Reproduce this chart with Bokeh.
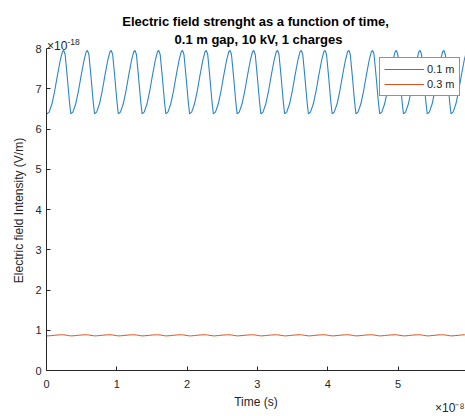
from bokeh.plotting import figure
from bokeh.models import Range1d, Label, Legend, LegendItem, FixedTicker, Title
from bokeh.embed import file_html
from bokeh.resources import INLINE

# ---- data (time in units of 1e-8 s, field in 1e-18 V/m) ----
time_01 = [
    0.000,
    0.007, 0.037, 0.077, 0.117, 0.157, 0.197, 0.227, 0.245, 0.265, 0.295, 0.325,
    0.345, 0.375, 0.415, 0.455, 0.495, 0.535, 0.565, 0.583, 0.603, 0.633, 0.663,
    0.683, 0.713, 0.753, 0.793, 0.833, 0.873, 0.903, 0.921, 0.941, 0.971, 1.001,
    1.021, 1.051, 1.091, 1.131, 1.171, 1.211, 1.241, 1.259, 1.279, 1.309, 1.339,
    1.359, 1.389, 1.429, 1.469, 1.509, 1.549, 1.579, 1.597, 1.617, 1.647, 1.677,
    1.697, 1.727, 1.767, 1.807, 1.847, 1.887, 1.917, 1.935, 1.955, 1.985, 2.015,
    2.035, 2.065, 2.105, 2.145, 2.185, 2.225, 2.255, 2.273, 2.293, 2.323, 2.353,
    2.373, 2.403, 2.443, 2.483, 2.523, 2.563, 2.593, 2.611, 2.631, 2.661, 2.691,
    2.711, 2.741, 2.781, 2.821, 2.861, 2.901, 2.931, 2.949, 2.969, 2.999, 3.029,
    3.049, 3.079, 3.119, 3.159, 3.199, 3.239, 3.269, 3.287, 3.307, 3.337, 3.367,
    3.387, 3.417, 3.457, 3.497, 3.537, 3.577, 3.607, 3.625, 3.645, 3.675, 3.705,
    3.725, 3.755, 3.795, 3.835, 3.875, 3.915, 3.945, 3.963, 3.983, 4.013, 4.043,
    4.063, 4.093, 4.133, 4.173, 4.213, 4.253, 4.283, 4.301, 4.321, 4.351, 4.381,
    4.401, 4.431, 4.471, 4.511, 4.551, 4.591, 4.621, 4.639, 4.659, 4.689, 4.719,
    4.739, 4.769, 4.809, 4.849, 4.889, 4.929, 4.959, 4.977, 4.997, 5.027, 5.057,
    5.077, 5.107, 5.147, 5.187, 5.227, 5.267, 5.297, 5.315, 5.335, 5.365, 5.395,
    5.415, 5.445, 5.485, 5.525, 5.565, 5.605, 5.635, 5.653, 5.673, 5.703, 5.733,
    5.753, 5.783, 5.823, 5.863, 5.903, 5.943, 5.973, 5.991, 6.000,
]

field_01 = [
    6.40,
    6.38, 6.42, 6.62, 6.95, 7.35, 7.72, 7.92, 7.95, 7.85, 7.30, 6.70,
    6.38, 6.42, 6.62, 6.95, 7.35, 7.72, 7.92, 7.95, 7.85, 7.30, 6.70,
    6.38, 6.42, 6.62, 6.95, 7.35, 7.72, 7.92, 7.95, 7.85, 7.30, 6.70,
    6.38, 6.42, 6.62, 6.95, 7.35, 7.72, 7.92, 7.95, 7.85, 7.30, 6.70,
    6.38, 6.42, 6.62, 6.95, 7.35, 7.72, 7.92, 7.95, 7.85, 7.30, 6.70,
    6.38, 6.42, 6.62, 6.95, 7.35, 7.72, 7.92, 7.95, 7.85, 7.30, 6.70,
    6.38, 6.42, 6.62, 6.95, 7.35, 7.72, 7.92, 7.95, 7.85, 7.30, 6.70,
    6.38, 6.42, 6.62, 6.95, 7.35, 7.72, 7.92, 7.95, 7.85, 7.30, 6.70,
    6.38, 6.42, 6.62, 6.95, 7.35, 7.72, 7.92, 7.95, 7.85, 7.30, 6.70,
    6.38, 6.42, 6.62, 6.95, 7.35, 7.72, 7.92, 7.95, 7.85, 7.30, 6.70,
    6.38, 6.42, 6.62, 6.95, 7.35, 7.72, 7.92, 7.95, 7.85, 7.30, 6.70,
    6.38, 6.42, 6.62, 6.95, 7.35, 7.72, 7.92, 7.95, 7.85, 7.30, 6.70,
    6.38, 6.42, 6.62, 6.95, 7.35, 7.72, 7.92, 7.95, 7.85, 7.30, 6.70,
    6.38, 6.42, 6.62, 6.95, 7.35, 7.72, 7.92, 7.95, 7.85, 7.30, 6.70,
    6.38, 6.42, 6.62, 6.95, 7.35, 7.72, 7.92, 7.95, 7.85, 7.30, 6.70,
    6.38, 6.42, 6.62, 6.95, 7.35, 7.72, 7.92, 7.95, 7.85, 7.30, 6.70,
    6.38, 6.42, 6.62, 6.95, 7.35, 7.72, 7.92, 7.95, 7.85, 7.30, 6.70,
    6.38, 6.42, 6.62, 6.95, 7.35, 7.72, 7.92, 7.95, 7.94,
]

time_03 = time_01

field_03 = [
    0.862,
    0.860, 0.862, 0.868, 0.876, 0.882, 0.886, 0.887, 0.886, 0.882, 0.873, 0.865,
    0.860, 0.862, 0.868, 0.876, 0.882, 0.886, 0.887, 0.886, 0.882, 0.873, 0.865,
    0.860, 0.862, 0.868, 0.876, 0.882, 0.886, 0.887, 0.886, 0.882, 0.873, 0.865,
    0.860, 0.862, 0.868, 0.876, 0.882, 0.886, 0.887, 0.886, 0.882, 0.873, 0.865,
    0.860, 0.862, 0.868, 0.876, 0.882, 0.886, 0.887, 0.886, 0.882, 0.873, 0.865,
    0.860, 0.862, 0.868, 0.876, 0.882, 0.886, 0.887, 0.886, 0.882, 0.873, 0.865,
    0.860, 0.862, 0.868, 0.876, 0.882, 0.886, 0.887, 0.886, 0.882, 0.873, 0.865,
    0.860, 0.862, 0.868, 0.876, 0.882, 0.886, 0.887, 0.886, 0.882, 0.873, 0.865,
    0.860, 0.862, 0.868, 0.876, 0.882, 0.886, 0.887, 0.886, 0.882, 0.873, 0.865,
    0.860, 0.862, 0.868, 0.876, 0.882, 0.886, 0.887, 0.886, 0.882, 0.873, 0.865,
    0.860, 0.862, 0.868, 0.876, 0.882, 0.886, 0.887, 0.886, 0.882, 0.873, 0.865,
    0.860, 0.862, 0.868, 0.876, 0.882, 0.886, 0.887, 0.886, 0.882, 0.873, 0.865,
    0.860, 0.862, 0.868, 0.876, 0.882, 0.886, 0.887, 0.886, 0.882, 0.873, 0.865,
    0.860, 0.862, 0.868, 0.876, 0.882, 0.886, 0.887, 0.886, 0.882, 0.873, 0.865,
    0.860, 0.862, 0.868, 0.876, 0.882, 0.886, 0.887, 0.886, 0.882, 0.873, 0.865,
    0.860, 0.862, 0.868, 0.876, 0.882, 0.886, 0.887, 0.886, 0.882, 0.873, 0.865,
    0.860, 0.862, 0.868, 0.876, 0.882, 0.886, 0.887, 0.886, 0.882, 0.873, 0.865,
    0.860, 0.862, 0.868, 0.876, 0.882, 0.886, 0.887, 0.886, 0.885,
]

series_names = ["0.1 m", "0.3 m"]
x_ticks = [0, 1, 2, 3, 4, 5, 6]
y_ticks = [0, 1, 2, 3, 4, 5, 6, 7, 8]
title_lines = ["Electric field strenght as a function of time,",
               "0.1 m gap, 10 kV, 1 charges"]
x_label = "Time (s)"
y_label = "Electric field Intensity (V/m)"

FONT = "Liberation Sans"
TXT = "#262626"
BLUE = "#2a86c6"
ORANGE = "#D95319"

# frame spans the full canvas height above the x axis (0..370 px); 40.25 px per unit
Y_TOP = 370 / 40.25
p = figure(width=465, height=416, output_backend="svg", toolbar_location=None,
           x_range=Range1d(0, 5.96), y_range=Range1d(0, Y_TOP),
           min_border_left=46, min_border_right=0, min_border_top=0,
           min_border_bottom=46)
p.outline_line_color = None
p.xgrid.visible = False
p.ygrid.visible = False
p.background_fill_color = "white"
p.border_fill_color = "white"

r1 = p.line(time_01, field_01, line_color=BLUE, line_width=1.1)
r2 = p.line(time_03, field_03, line_color=ORANGE, line_width=1.0)

for ax in (p.xaxis[0], p.yaxis[0]):
    ax.axis_line_color = TXT
    ax.axis_line_width = 1
    ax.major_tick_line_color = TXT
    ax.major_tick_in = 4
    ax.major_tick_out = 0
    ax.minor_tick_line_color = None
    ax.major_label_text_font = FONT
    ax.major_label_text_font_size = "11px"
    ax.major_label_text_color = TXT
    ax.axis_label_text_font = FONT
    ax.axis_label_text_font_size = "12px"
    ax.axis_label_text_font_style = "normal"
    ax.axis_label_text_color = TXT

p.xaxis.ticker = FixedTicker(ticks=x_ticks)
p.yaxis.ticker = FixedTicker(ticks=y_ticks)
p.yaxis.bounds = (0, 8)
p.xaxis.major_label_standoff = 9
p.yaxis.major_label_standoff = 5
p.xaxis.axis_label = x_label
# trailing no-break spaces keep the visible label centred on the 0..8 axis
p.yaxis.axis_label = y_label + "\u00a0" * 15
p.xaxis.axis_label_standoff = 4
p.yaxis.axis_label_standoff = 6


def px_y(py):
    return (370 - py) / 40.25


def px_x(px):
    return (px - 46) / 70.3


def label(xp, yp, text, size, bold=False, align="left"):
    p.add_layout(Label(x=px_x(xp), y=px_y(yp), text=text,
                       text_align=align, text_baseline="alphabetic",
                       text_font=FONT, text_font_size=size,
                       text_font_style="bold" if bold else "normal",
                       text_color="black" if bold else TXT))


# title
label(255, 21, title_lines[0], "13px", bold=True, align="center")
label(258, 38.5, title_lines[1], "13px", bold=True, align="center")

# y exponent
label(46.5, 45.5, "\u00d710", "12px")
label(67, 41, "-18", "8.5px")

# x exponent (below the axis, right aligned, pulled up beside the axis label)
p.add_layout(Title(text="\u00d710\u207b\u2078", align="right", vertical_align="top",
                   text_font=FONT, text_font_size="12px", text_font_style="normal",
                   text_color=TXT, standoff=-21, offset=1), "below")

legend = Legend(items=[LegendItem(label=series_names[0], renderers=[r1]),
                       LegendItem(label=series_names[1], renderers=[r2])],
                location=(333, 274), padding=4, spacing=1,
                glyph_width=40, glyph_height=14, label_height=14,
                label_standoff=3, label_text_font=FONT,
                label_text_font_size="11px", label_text_color=TXT,
                border_line_color=TXT, border_line_width=1,
                background_fill_color="white", background_fill_alpha=1)
p.add_layout(legend)

open("out.html", "w").write(file_html(p, INLINE))
